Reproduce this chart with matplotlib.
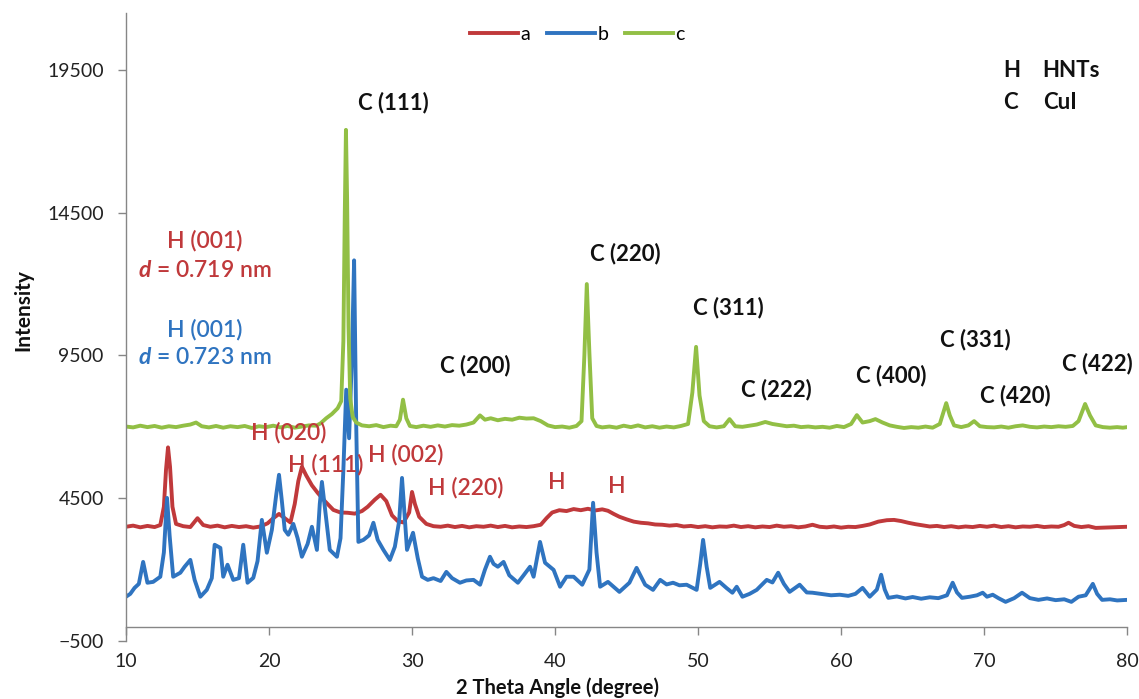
import matplotlib
matplotlib.use("Agg")
import matplotlib.pyplot as plt

plt.rcParams['font.family'] = ['Lato', 'DejaVu Sans']
plt.rcParams['mathtext.fontset'] = 'custom'
plt.rcParams['mathtext.it'] = 'Lato:italic:bold'

# ---------------- data ----------------
series_names = ["a", "b", "c"]

a_x = [10.0, 10.5, 11.0, 11.5, 12.0, 12.4, 12.65, 12.8, 12.94, 13.08, 13.25, 13.5, 14.0, 14.5, 15.0, 15.4,
       15.9, 16.4, 16.9, 17.4, 17.9, 18.4, 18.9, 19.4, 19.9, 20.3, 20.7, 21.1, 21.5, 21.8, 22.05, 22.3,
       22.6, 23.0, 23.4, 23.9, 24.5, 25.0, 25.5, 26.0, 26.5, 26.9, 27.4, 27.8, 28.2, 28.6, 29.0, 29.4,
       29.8, 30.0, 30.2, 30.5, 31.0, 31.5, 32.0, 32.5, 33.0, 33.5, 34.0, 34.5, 35.0, 35.5, 36.0, 36.5,
       37.0, 37.5, 38.0, 38.5, 39.0, 39.4, 39.8, 40.3, 40.8, 41.3, 41.8, 42.3, 42.8, 43.3, 43.7, 44.1,
       44.5, 45.0, 45.5, 46.0, 46.5, 47.0, 47.5, 48.0, 48.5, 49.0, 49.5, 50.0, 50.5, 51.0, 51.5, 52.0,
       52.5, 53.0, 53.5, 54.0, 54.5, 55.0, 55.5, 56.0, 56.5, 57.0, 57.5, 58.0, 58.5, 59.0, 59.5, 60.0,
       60.5, 61.0, 61.5, 62.0, 62.6, 63.2, 63.7, 64.2, 64.7, 65.2, 65.7, 66.2, 66.7, 67.2, 67.7, 68.2,
       68.7, 69.2, 69.7, 70.2, 70.7, 71.2, 71.7, 72.2, 72.7, 73.2, 73.7, 74.2, 74.7, 75.2, 75.6, 75.9,
       76.3, 76.8, 77.3, 77.8, 80.0]
a_y = [3500, 3540, 3480, 3530, 3490, 3560, 4200, 5500, 6280, 5600, 4200, 3600, 3520, 3490, 3800, 3560,
       3500, 3540, 3480, 3530, 3490, 3520, 3470, 3510, 3620, 3800, 3950, 3800, 3650, 4300, 5100, 5600,
       5300, 4950, 4690, 4400, 4090, 4000, 3990, 3960, 4050, 4200, 4450, 4620, 4400, 3900, 3700, 3650,
       4000, 4720, 4300, 3850, 3600, 3520, 3500, 3540, 3490, 3530, 3480, 3520, 3500, 3540, 3490, 3530,
       3480, 3510, 3490, 3520, 3570, 3800, 4000, 4080, 4050, 4120, 4080, 4130, 4070, 4110, 4060, 3950,
       3850, 3760, 3680, 3640, 3620, 3580, 3570, 3540, 3560, 3510, 3530, 3490, 3520, 3480, 3510, 3500,
       3540, 3490, 3520, 3480, 3510, 3490, 3540, 3500, 3520, 3480, 3510, 3570, 3500, 3480, 3510, 3470,
       3500, 3490, 3530, 3580, 3680, 3730, 3740, 3700, 3640, 3590, 3550, 3510, 3530, 3490, 3520, 3480,
       3510, 3490, 3530, 3500, 3540, 3490, 3520, 3480, 3510, 3500, 3530, 3490, 3510, 3500, 3560, 3640,
       3530, 3490, 3520, 3460, 3500]

b_x = [10.0, 10.3, 10.6, 10.9, 11.2, 11.5, 11.9, 12.4, 12.65, 12.87, 13.05, 13.3, 13.8, 14.1, 14.5, 14.8,
       15.2, 15.65, 16.0, 16.2, 16.45, 16.6, 16.8, 17.1, 17.5, 17.9, 18.2, 18.5, 18.9, 19.2, 19.5, 19.85,
       20.2, 20.5, 20.7, 20.9, 21.1, 21.35, 21.7, 22.0, 22.3, 22.7, 23.0, 23.35, 23.55, 23.7, 23.9, 24.25,
       24.75, 25.0, 25.2, 25.4, 25.6, 25.8, 25.95, 26.1, 26.25, 26.6, 27.0, 27.3, 27.6, 28.0, 28.45, 28.8,
       29.1, 29.3, 29.5, 29.65, 30.07, 30.4, 30.7, 31.1, 31.5, 32.0, 32.4, 32.8, 33.35, 33.8, 34.3, 34.76,
       35.1, 35.45, 35.7, 36.0, 36.4, 36.8, 37.4, 37.8, 38.25, 38.5, 38.95, 39.3, 39.9, 40.35, 40.8, 41.3,
       41.9, 42.4, 42.66, 42.9, 43.15, 43.7, 44.5, 45.2, 45.7, 46.3, 46.85, 47.35, 47.8, 48.25, 48.7, 49.2,
       49.9, 50.15, 50.35, 50.6, 50.85, 51.5, 52.0, 52.4, 52.7, 53.1, 53.6, 54.1, 54.8, 55.2, 55.6, 56.0,
       56.4, 57.1, 57.6, 58.0, 58.6, 59.3, 59.9, 60.5, 61.0, 61.5, 62.0, 62.5, 62.8, 63.05, 63.3, 63.9,
       64.5, 65.0, 65.6, 66.2, 66.8, 67.4, 67.8, 68.1, 68.45, 69.0, 69.5, 69.9, 70.2, 70.6, 71.0, 71.5,
       72.1, 72.65, 73.2, 73.8, 74.4, 75.0, 75.6, 76.1, 76.6, 77.1, 77.6, 77.9, 78.25, 78.8, 79.3, 80.0]
b_y = [1050, 1150, 1360, 1500, 2270, 1540, 1570, 1750, 2600, 4510, 3200, 1750, 1890, 2100, 2340, 1640,
       1050, 1290, 1700, 2870, 2800, 2760, 1750, 2170, 1640, 1700, 2870, 1540, 1710, 2300, 3740, 2590,
       3390, 4600, 5320, 4400, 3390, 3220, 3600, 3100, 2450, 2900, 3500, 2690, 4300, 5070, 4200, 2690,
       2450, 3100, 5500, 8300, 6600, 9500, 12830, 7000, 2970, 3040, 3200, 3640, 3040, 2690, 2340, 2800,
       3700, 5210, 3800, 2690, 3290, 2400, 1750, 1640, 1700, 1600, 1920, 1700, 1540, 1620, 1640, 1470,
       2000, 2450, 2200, 2100, 2270, 1800, 1540, 1800, 2100, 1750, 2970, 2240, 1990, 1400, 1750, 1750,
       1470, 2000, 4340, 2600, 1400, 1570, 1220, 1540, 2060, 1470, 1290, 1640, 1480, 1540, 1450, 1470,
       1290, 2200, 3040, 2100, 1360, 1570, 1350, 1190, 1400, 1050, 1150, 1290, 1640, 1550, 1890, 1500,
       1220, 1470, 1200, 1190, 1150, 1100, 1120, 1080, 1150, 1360, 1050, 1300, 1820, 1300, 1010, 1060,
       990, 1040, 980, 1030, 1000, 1100, 1540, 1200, 1010, 1050, 1100, 1190, 1050, 1120, 1000, 870,
       1000, 1190, 1000, 940, 990, 930, 960, 870, 1050, 1100, 1500, 1150, 940, 960, 920, 940]

c_x = [10.0, 10.5, 11.0, 11.5, 12.0, 12.5, 13.0, 13.5, 14.0, 14.5, 14.9, 15.3, 15.8, 16.3, 16.8, 17.3,
       17.8, 18.3, 18.8, 19.3, 19.8, 20.3, 20.8, 21.3, 21.8, 22.3, 22.8, 23.3, 23.6, 24.0, 24.4, 24.8,
       25.05, 25.2, 25.3, 25.38, 25.46, 25.56, 25.68, 25.85, 26.1, 26.5, 27.0, 27.5, 28.0, 28.5, 28.9, 29.15,
       29.37, 29.6, 29.85, 30.3, 30.8, 31.3, 31.8, 32.3, 32.8, 33.3, 33.8, 34.3, 34.75, 35.1, 35.5, 36.0,
       36.5, 37.0, 37.5, 38.0, 38.5, 39.0, 39.5, 40.0, 40.5, 41.0, 41.5, 41.85, 42.05, 42.22, 42.4, 42.6,
       42.9, 43.3, 43.8, 44.3, 44.8, 45.3, 45.8, 46.3, 46.8, 47.3, 47.8, 48.3, 48.8, 49.3, 49.6, 49.86,
       50.1, 50.4, 50.8, 51.3, 51.8, 52.2, 52.6, 53.1, 53.6, 54.1, 54.7, 55.2, 55.7, 56.2, 56.7, 57.2,
       57.7, 58.2, 58.7, 59.2, 59.7, 60.2, 60.7, 61.1, 61.5, 62.0, 62.4, 62.9, 63.4, 63.9, 64.4, 64.9,
       65.4, 65.9, 66.4, 66.9, 67.15, 67.35, 67.6, 67.9, 68.4, 68.9, 69.3, 69.7, 70.2, 70.7, 71.2, 71.7,
       72.2, 72.7, 73.2, 73.7, 74.2, 74.7, 75.2, 75.7, 76.2, 76.6, 77.06, 77.4, 77.8, 78.3, 78.8, 79.3,
       79.7, 80.0]
c_y = [7010, 6980, 7040, 6990, 7030, 6970, 7020, 6990, 7040, 7080, 7150, 7020, 6980, 7030, 6970, 7020,
       6990, 7030, 6960, 7020, 6990, 7040, 6980, 7030, 6970, 7010, 7050, 7040, 7120, 7300, 7450, 7650,
       7900, 10000, 14500, 17400, 15000, 10500, 8000, 7350, 7150, 7050, 7020, 7060, 6990, 7040, 7020, 7250,
       7950, 7300, 7030, 6990, 7040, 7000, 7050, 7010, 7060, 7040, 7080, 7150, 7400, 7250, 7300, 7230,
       7280, 7250, 7320, 7290, 7300, 7200, 7050, 6990, 7010, 6970, 7030, 7200, 9500, 12000, 9600, 7300,
       7030, 6980, 7010, 6970, 7040, 6990, 7050, 6980, 7020, 6970, 7010, 6980, 7030, 7100, 8200, 9800,
       8100, 7200, 7020, 6980, 7020, 7270, 7020, 7000, 7040, 7080, 7170, 7100, 7060, 7020, 7040, 6990,
       7010, 6980, 7000, 6970, 7030, 6990, 7100, 7410, 7150, 7200, 7270, 7150, 7050, 7000, 6960, 6990,
       6970, 7010, 6970, 7100, 7500, 7830, 7400, 7050, 6990, 7050, 7200, 7020, 6990, 6980, 7010, 6970,
       7020, 7050, 7000, 6980, 7010, 6990, 7020, 7000, 7030, 7200, 7800, 7400, 7050, 6990, 6970, 6990,
       6970, 6990]

x_ticks = [10, 20, 30, 40, 50, 60, 70, 80]
y_ticks = [-500, 4500, 9500, 14500, 19500]

colors = {"a": "#C0393B", "b": "#2F74C0", "c": "#92BF45"}

# ---------------- figure ----------------
fig = plt.figure(figsize=(11.39, 6.99), dpi=100)
ax = fig.add_axes([0.1106, 0.083, 0.879, 0.8987])

for name, xs, ys in (("a", a_x, a_y), ("b", b_x, b_y), ("c", c_x, c_y)):
    ax.plot(xs, ys, color=colors[name], lw=2.8, label=name, solid_joinstyle='round')

ax.set_xlim(10, 80)
ax.set_ylim(-500, 21500)
ax.set_xticks(x_ticks)
ax.set_yticks(y_ticks)
ax.spines['top'].set_visible(False)
ax.spines['right'].set_visible(False)
ax.spines['bottom'].set_position(('data', 0))
for s in ('left', 'bottom'):
    ax.spines[s].set_color('#868686')
    ax.spines[s].set_linewidth(1.0)
ax.tick_params(axis='both', colors='#868686', labelcolor='#222222', labelsize=14,
               direction='out', length=6, width=1)
ax.tick_params(axis='x', pad=13)
ax.tick_params(axis='y', pad=10)

fig.text(558 / 1139, 1 - 688 / 699, "2 Theta Angle (degree)", ha='center', va='center',
         fontsize=14.5, fontweight='bold', color='#111111')
fig.text(23 / 1139, 1 - 310 / 699, "Intensity", ha='center', va='center', rotation=90,
         fontsize=15, fontweight='bold', color='#111111')

leg = ax.legend(loc='center', bbox_to_anchor=(0.451, 0.965), ncol=3, frameon=False,
                fontsize=14, handlelength=2.45, handletextpad=0.15, columnspacing=0.85)

black_labels = [("C (111)", 28.67, 18360), ("C (200)", 34.4, 9130), ("C (220)", 44.9, 13080),
                ("C (311)", 52.1, 11190), ("C (222)", 55.45, 8290), ("C (400)", 63.5, 8780),
                ("C (331)", 69.4, 10070), ("C (420)", 72.2, 8080), ("C (422)", 77.9, 9200)]
for t, x, y in black_labels:
    ax.text(x, y, t, ha='center', va='center', fontsize=16, fontweight='bold', color='#111111')

red_labels = [("H (001)", 15.52, 13530), ("$\\mathit{d}$ = 0.719 nm", 15.52, 12480),
              ("H (020)", 21.4, 6780), ("H (111)", 23.99, 5670), ("H (002)", 29.58, 6010),
              ("H (220)", 33.78, 4860), ("H", 40.14, 5040), ("H", 44.34, 4900)]
for t, x, y in red_labels:
    ax.text(x, y, t, ha='center', va='center', fontsize=16.5, fontweight='semibold', color=colors["a"])

blue_labels = [("H (001)", 15.52, 10390), ("$\\mathit{d}$ = 0.723 nm", 15.52, 9440)]
for t, x, y in blue_labels:
    ax.text(x, y, t, ha='center', va='center', fontsize=16.5, fontweight='semibold', color=colors["b"])

key_labels = [("H", 71.33, 19480), ("HNTs", 74.06, 19480), ("C", 71.33, 18360), ("CuI", 74.1, 18360)]
for t, x, y in key_labels:
    ax.text(x, y, t, ha='left', va='center', fontsize=16, fontweight='bold', color='#111111')

fig.savefig("out.png", dpi=100)
